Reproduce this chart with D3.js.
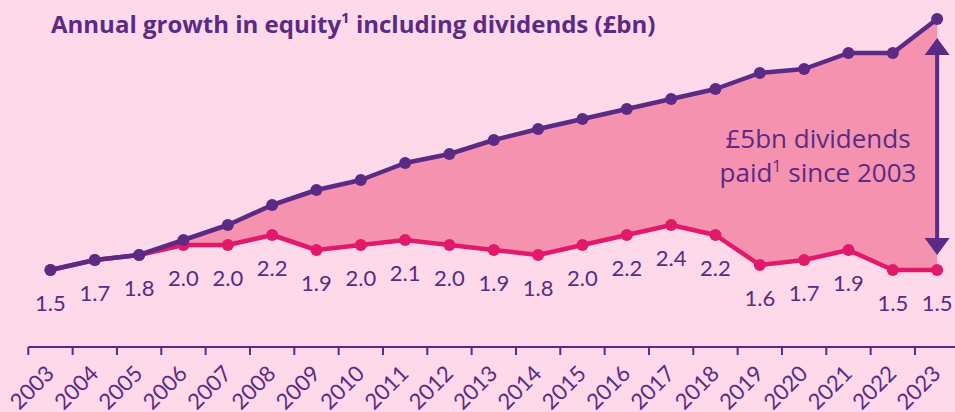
<!DOCTYPE html>
<html lang="en">
<head>
<meta charset="UTF-8"/>
<title>Annual growth in equity including dividends</title>
<script src="https://d3js.org/d3.v7.min.js"></script>
<style>
	body {
		margin: 0;
		background-color: #fdd9ea; /* light pink page */
		font-family: Lato, "Open Sans", sans-serif;
	}
	#chart svg {
		display: block;
	}
</style>
</head>
<body>
<div id="chart"></div>
<script>
	// chart data (£bn)
	var years = ["2003","2004","2005","2006","2007","2008","2009","2010","2011","2012",
		"2013","2014","2015","2016","2017","2018","2019","2020","2021","2022","2023"];
	// annual growth in equity (bottom line, labelled)
	var growth = [1.5,1.7,1.8,2.0,2.0,2.2,1.9,2.0,2.1,2.0,1.9,1.8,2.0,2.2,2.4,2.2,1.6,1.7,1.9,1.5,1.5];
	// growth including dividends paid (top line)
	var withDividends = [1.5,1.7,1.8,2.1,2.4,2.8,3.1,3.3,3.64,3.82,4.1,4.32,4.52,4.72,4.92,5.12,5.44,5.52,5.84,5.84,6.52];

	var w = 955;
	var h = 412;
	var purple = "#5b2a84";
	var pink = "#e2196b";

	var svg = d3.select("#chart")
		.append("svg")
		.attr("width", w)
		.attr("height", h);

	var xScale = d3.scaleBand()
		.domain(years)
		.range([28.3, 959.3])
		.padding(0);

	var yScale = d3.scaleLinear()
		.domain([0, 6.9])
		.range([345, 0]);

	var bw = xScale.bandwidth();
	function cx(d, i) { return xScale(years[i]) + bw / 2; }

	// shaded area between the two lines = dividends
	var area = d3.area()
		.x(function(d, i) { return cx(d, i); })
		.y0(function(d, i) { return yScale(growth[i]); })
		.y1(function(d) { return yScale(d); });

	svg.append("path")
		.datum(withDividends)
		.attr("d", area)
		.attr("fill", "#f492b0");

	// x axis, ticks between years
	var xAxis = d3.axisBottom(xScale).tickSize(8).tickSizeOuter(0);
	var gx = svg.append("g")
		.attr("transform", "translate(0, 347)")
		.call(xAxis);
	gx.select(".domain").attr("stroke", purple).attr("stroke-width", 2)
		.attr("d", "M28.3,0H955");
	gx.selectAll(".tick line")
		.attr("stroke", purple)
		.attr("stroke-width", 2)
		.attr("x1", -bw / 2).attr("x2", -bw / 2);
	gx.selectAll(".tick text")
		.attr("fill", purple)
		.attr("font-size", "22px")
		.attr("font-family", "Lato, sans-serif")
		.attr("text-anchor", "end")
		.attr("dy", 0)
		.attr("x", 0).attr("y", 0)
		.attr("transform", "translate(5, 28) rotate(-45)");

	var line = d3.line()
		.x(function(d, i) { return cx(d, i); })
		.y(function(d) { return yScale(d); });

	// pink line (annual growth)
	svg.append("path")
		.datum(growth)
		.attr("d", line)
		.attr("fill", "none")
		.attr("stroke", pink)
		.attr("stroke-width", 4.5)
		.attr("stroke-linejoin", "round");

	svg.selectAll("circle.growth")
		.data(growth)
		.enter()
		.append("circle")
		.attr("class", "growth")
		.attr("cx", cx)
		.attr("cy", function(d) { return yScale(d); })
		.attr("r", 6)
		.attr("fill", pink);

	// purple line (including dividends)
	svg.append("path")
		.datum(withDividends)
		.attr("d", line)
		.attr("fill", "none")
		.attr("stroke", purple)
		.attr("stroke-width", 4.5)
		.attr("stroke-linejoin", "round");

	svg.selectAll("circle.total")
		.data(withDividends)
		.enter()
		.append("circle")
		.attr("class", "total")
		.attr("cx", cx)
		.attr("cy", function(d) { return yScale(d); })
		.attr("r", 6)
		.attr("fill", purple);

	// value labels under the pink points
	svg.selectAll("text.value")
		.data(growth)
		.enter()
		.append("text")
		.attr("class", "value")
		.attr("x", cx)
		.attr("y", function(d) { return yScale(d) + 41; })
		.attr("text-anchor", "middle")
		.attr("font-size", "22px")
		.attr("fill", purple)
		.text(function(d) { return d.toFixed(1); });

	// double arrow for dividends at last year
	var last = withDividends.length - 1;
	var ax = cx(null, last);
	var aTop = yScale(withDividends[last]) + 19;
	var aBot = yScale(growth[last]) - 15;
	svg.append("line")
		.attr("x1", ax).attr("x2", ax)
		.attr("y1", aTop + 10).attr("y2", aBot - 10)
		.attr("stroke", purple)
		.attr("stroke-width", 4);
	svg.append("path")
		.attr("d", "M" + ax + "," + aTop + "l12.5,17h-25z")
		.attr("fill", purple);
	svg.append("path")
		.attr("d", "M" + ax + "," + aBot + "l12.5,-17h-25z")
		.attr("fill", purple);

	var note = svg.append("text")
		.attr("text-anchor", "middle")
		.attr("font-size", "26px")
		.attr("font-family", "'Open Sans', sans-serif")
		.attr("fill", purple);
	note.append("tspan").attr("x", 818).attr("y", 148).text("£5bn dividends");
	note.append("tspan").attr("x", 818).attr("y", 182).text("paid")
		.append("tspan").attr("font-size", "16px").attr("dy", -10).text("1");
	note.append("tspan").attr("dy", 10).text(" since 2003");

	// title
	var title = svg.append("text")
		.attr("x", 51)
		.attr("y", 33)
		.attr("font-size", "24px")
		.attr("font-weight", "bold")
		.attr("font-family", "'Open Sans', sans-serif")
		.attr("fill", purple);
	title.append("tspan").text("Annual growth in equity");
	title.append("tspan").attr("font-size", "15px").attr("dy", -10).text("1");
	title.append("tspan").attr("dy", 10).text(" including dividends (£bn)");
</script>
</body>
</html>
